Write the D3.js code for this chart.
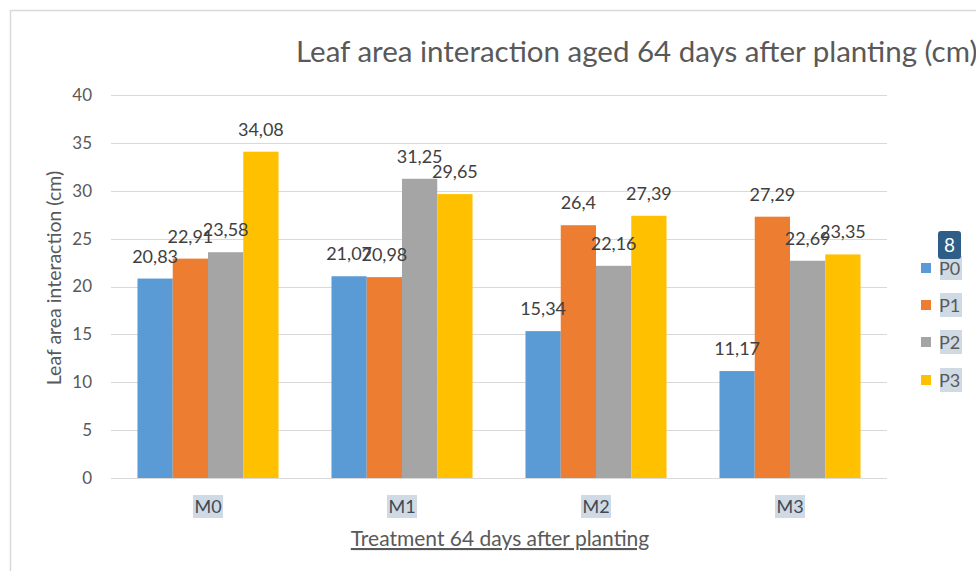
<!DOCTYPE html>
<html><head><meta charset="utf-8">
<script src="https://cdn.jsdelivr.net/npm/d3@7"></script>
<style>body{margin:0;background:#fff;}svg{display:block;font-family:Lato,"Open Sans",sans-serif;}</style>
</head><body>
<svg id="c" width="976" height="571"></svg>
<script>
const categories = ["M0","M1","M2","M3"];
const seriesNames = ["P0","P1","P2","P3"];
const P0 = [20.83, 21.07, 15.34, 11.17];
const P1 = [22.91, 20.98, 26.4, 27.29];
const P2 = [23.58, 31.25, 22.16, 22.69];
const P3 = [34.08, 29.65, 27.39, 23.35];
const labelsP0 = ["20,83","21,07","15,34","11,17"];
const labelsP1 = ["22,91","20,98","26,4","27,29"];
const labelsP2 = ["23,58","31,25","22,16","22,69"];
const labelsP3 = ["34,08","29,65","27,39","23,35"];
const yTicks = [0,5,10,15,20,25,30,35,40];
const colors = ["#5b9bd5","#ed7d31","#a5a5a5","#ffc000"];

const values = [P0,P1,P2,P3];
const labels = [labelsP0,labelsP1,labelsP2,labelsP3];

const svg = d3.select("#c");
const plotL = 111, plotR = 887, plotT = 95, plotB = 478;

// outer border
svg.append("path").attr("d","M10.5,571 V10.5 H976").attr("fill","none").attr("stroke","#d9d9d9").attr("stroke-width",1.5);

const x = d3.scaleBand().domain(categories).range([plotL,plotR]).paddingInner(0).paddingOuter(0);
const y = d3.scaleLinear().domain([0,40]).range([plotB,plotT]);
const groupW = x.bandwidth()*0.727;
const xs = d3.scaleBand().domain(seriesNames).range([0,groupW]).padding(0);

// gridlines
svg.append("g").selectAll("line").data(yTicks).join("line")
  .attr("x1",plotL).attr("x2",plotR).attr("y1",d=>Math.round(y(d))+0.5).attr("y2",d=>Math.round(y(d))+0.5)
  .attr("stroke","#d9d9d9").attr("stroke-width",1);

// y axis labels
const yAxis = d3.axisLeft(y).tickValues(yTicks).tickSize(0).tickPadding(0);
const ga = svg.append("g").attr("transform",`translate(92,0)`).call(yAxis);
ga.select(".domain").remove();
ga.selectAll("text").attr("font-size",17).attr("fill","#595959").attr("font-family","Lato,'Open Sans',sans-serif");

// bars
seriesNames.forEach((s,si)=>{
  const g = svg.append("g");
  g.selectAll("rect").data(categories).join("rect")
    .attr("x",(c)=>x(c)+(x.bandwidth()-groupW)/2+xs(s))
    .attr("width",xs.bandwidth())
    .attr("y",(c,i)=>y(values[si][i]))
    .attr("height",(c,i)=>y(0)-y(values[si][i]))
    .attr("fill",colors[si]);
});
seriesNames.forEach((s,si)=>{
  svg.append("g").selectAll("text").data(categories).join("text")
    .attr("x",(c)=>x(c)+(x.bandwidth()-groupW)/2+xs(s)+xs.bandwidth()/2)
    .attr("y",(c,i)=>y(values[si][i])-16)
    .attr("text-anchor","middle").attr("font-size",18).attr("fill","#404040")
    .text((c,i)=>labels[si][i]);
});

// x category labels with highlight
const xg = svg.append("g");
categories.forEach(c=>{
  const cx = x(c)+x.bandwidth()/2;
  xg.append("rect").attr("x",cx-15).attr("y",495).attr("width",30).attr("height",23).attr("fill","#cfdae5");
  xg.append("text").attr("x",cx).attr("y",513).attr("text-anchor","middle").attr("font-size",18).attr("fill","#404a55").text(c);
});

// x axis title
svg.append("text").attr("x",500).attr("y",546).attr("text-anchor","middle").attr("font-size",21).attr("fill","#595959")
  .attr("text-decoration","underline").text("Treatment 64 days after planting");

// y axis title
svg.append("text").attr("transform","translate(61,278) rotate(-90)").attr("text-anchor","middle").attr("font-size",19.5).attr("fill","#595959")
  .text("Leaf area interaction (cm)");

// title
svg.append("text").attr("x",296).attr("y",62).attr("font-size",29.5).attr("fill","#595959")
  .text("Leaf area interaction aged 64 days after planting (cm)");

// legend
const lg = svg.append("g");
const legY = [268,305,342,380];
seriesNames.forEach((s,i)=>{
  lg.append("rect").attr("x",921).attr("y",legY[i]-5).attr("width",10).attr("height",10).attr("fill",colors[i]);
  lg.append("rect").attr("x",940).attr("y",legY[i]-12).attr("width",22).attr("height",24).attr("fill","#cfdae5");
  lg.append("text").attr("x",939).attr("y",legY[i]+7).attr("font-size",18).attr("fill","#595959").text(s);
});
// badge
lg.append("rect").attr("x",938).attr("y",231).attr("width",23).attr("height",28).attr("rx",3).attr("fill","#2e5d87");
lg.append("text").attr("x",949.5).attr("y",252).attr("text-anchor","middle").attr("font-size",19).attr("fill","#fff").text("8");
</script>
</body></html>
